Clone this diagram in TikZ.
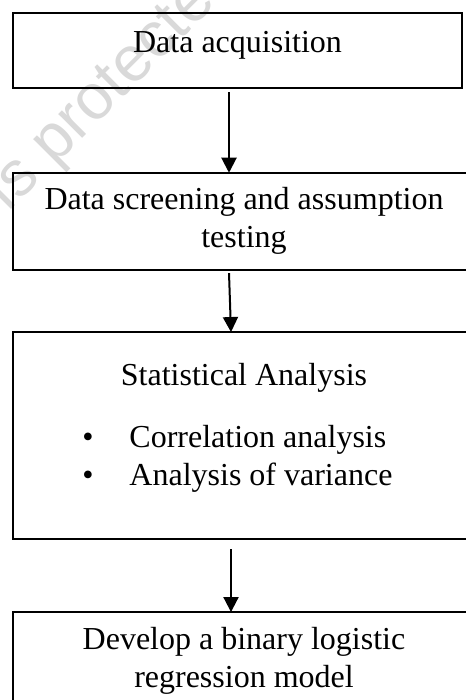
\documentclass[tikz,border=0pt]{standalone}
\usepackage{fontspec}
\setmainfont{Liberation Serif}
\newfontfamily\wmfont{Liberation Sans}
\usetikzlibrary{arrows.meta,positioning}
\tikzset{
  stage/.style={draw=black,line width=1.1pt,inner xsep=0pt,inner ysep=0pt,
    outer sep=0pt,align=center,font=\fontsize{16pt}{19pt}\selectfont},
  arr/.style={-{Triangle[length=7.5pt,width=7.5pt]},line width=1pt},
  wmark/.style={text=gray!30,font=\wmfont\fontsize{32pt}{38pt}\selectfont,
    rotate=45,anchor=base west},
}

\begin{document}
\begin{tikzpicture}[x=0.5pt,y=-0.5pt]
  \useasboundingbox (0,0) rectangle (465,700);

  % watermark
  \node[wmark] (wm) at (4,217) {is protected};

  \node[stage,minimum width=224.5pt,text height=19.65pt,text depth=18pt]
    (acq) at (237.5,50.4) {Data acquisition};
  \node[stage,minimum width=231pt,text height=37.15pt,text depth=11.5pt,
    below=42.35pt of acq,xshift=3.25pt] (screen)
    {Data screening and assumption\\testing};
  \node[stage,minimum width=231pt,text height=57.5pt,text depth=46pt,
    below=31pt of screen] (stat)
    {Statistical Analysis\\[12pt]
     \begin{tabular}[t]{@{}l@{\hspace{17.9pt}}l@{}}
       \textbullet & Correlation analysis\\
       \textbullet & Analysis of variance
     \end{tabular}\hspace*{6.5pt}};
  \node[stage,minimum width=231pt,text height=37.5pt,text depth=11.5pt,
    below=36.5pt of stat] (model)
    {Develop a binary logistic\\regression model};

  \draw[arr] ([xshift=-4.25pt,yshift=-2pt]acq.south) -- ([xshift=-7.5pt]screen.north);
  \draw[arr] ([xshift=-7.5pt,yshift=-1.5pt]screen.south) -- ([xshift=-6.5pt]stat.north);
  \draw[arr] ([xshift=-6.5pt,yshift=-5pt]stat.south) -- ([xshift=-6.5pt]model.north);
\end{tikzpicture}
\end{document}
